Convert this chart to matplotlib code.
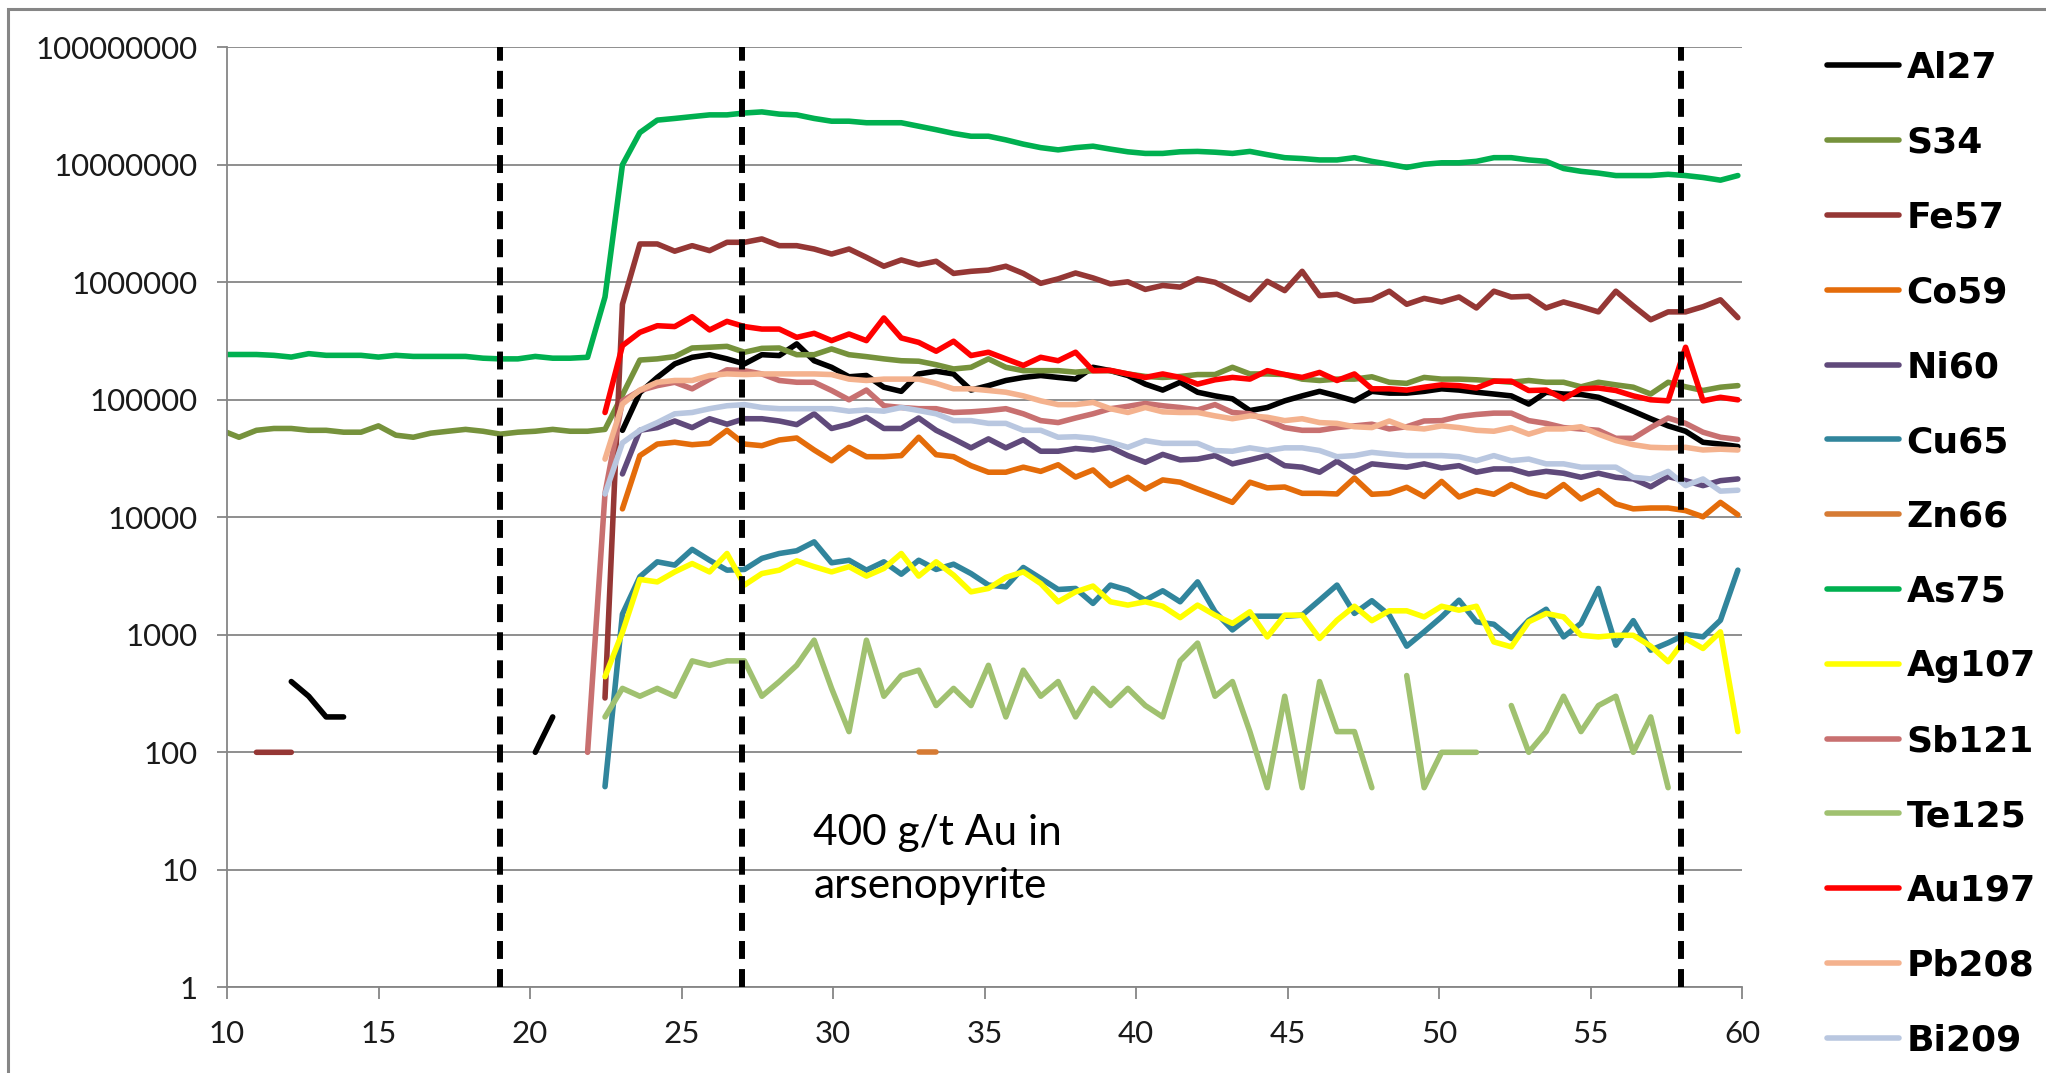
import numpy as np
import matplotlib
matplotlib.use('Agg')
import matplotlib.pyplot as plt
from matplotlib.patches import Rectangle
from matplotlib.ticker import FixedLocator, NullLocator, FuncFormatter

nan = np.nan

# acquisition grid: one sweep every 0.5752 s, sweep 0 sits just left of 10 s
SWEEP_START = 9.821
SWEEP_STEP = 0.5752
N_SWEEPS = 88

# ---- counts per sweep (cps) ------------------------------------------------
# gas blank part (sweeps 0-21)
as75_blank = [2.43e5, 2.43e5, 2.43e5, 2.39e5, 2.31e5, 2.47e5, 2.39e5, 2.39e5, 2.39e5, 2.31e5, 2.39e5,
              2.34e5, 2.34e5, 2.34e5, 2.34e5, 2.26e5, 2.23e5, 2.23e5, 2.34e5, 2.26e5, 2.26e5, 2.30e5]
s34_blank = [5.5e4, 4.8e4, 5.5e4, 5.7e4, 5.7e4, 5.5e4, 5.5e4, 5.3e4, 5.3e4, 6.0e4, 5.0e4,
             4.8e4, 5.2e4, 5.4e4, 5.6e4, 5.4e4, 5.1e4, 5.3e4, 5.4e4, 5.6e4, 5.4e4, 5.4e4]
al27_blank = [400, 300, 200, 200]          # sweeps 4-7
al27_blank2 = [100, 200]                   # sweeps 18-19
fe57_blank = [100, 100, 100]               # sweeps 2-4
sb121_blank = [100]                        # sweep 21
zn66_spot = [100, 100]                     # sweeps 40-41

# ablation part (sweeps 22-87)
al27 = [nan, 5.5e4, 1.15e5, 1.55e5, 2.02e5, 2.3e5, 2.42e5, 2.23e5, 2.02e5, 2.42e5, 2.38e5,
        2.99e5, 2.15e5, 1.89e5, 1.57e5, 1.61e5, 1.28e5, 1.18e5, 1.66e5, 1.75e5, 1.66e5, 1.21e5,
        1.32e5, 1.46e5, 1.55e5, 1.61e5, 1.55e5, 1.5e5, 1.89e5, 1.77e5, 1.61e5, 1.36e5, 1.21e5,
        1.41e5, 1.16e5, 1.08e5, 1.02e5, 8.1e4, 8.6e4, 9.8e4, 1.08e5, 1.18e5, 1.08e5, 9.8e4,
        1.18e5, 1.14e5, 1.14e5, 1.18e5, 1.24e5, 1.21e5, 1.16e5, 1.12e5, 1.08e5, 9.2e4, 1.16e5,
        1.12e5, 1.11e5, 1.05e5, 9.2e4, 8.0e4, 6.9e4, 6.0e4, 5.4e4, 4.35e4, 4.2e4, 4.0e4]
s34 = [5.6e4, 1.1e5, 2.18e5, 2.23e5, 2.33e5, 2.76e5, 2.8e5, 2.85e5, 2.54e5, 2.74e5, 2.76e5,
       2.42e5, 2.42e5, 2.71e5, 2.42e5, 2.33e5, 2.23e5, 2.15e5, 2.13e5, 1.99e5, 1.83e5, 1.89e5,
       2.23e5, 1.89e5, 1.77e5, 1.77e5, 1.77e5, 1.72e5, 1.77e5, 1.77e5, 1.66e5, 1.58e5, 1.55e5,
       1.58e5, 1.64e5, 1.64e5, 1.89e5, 1.66e5, 1.66e5, 1.64e5, 1.5e5, 1.46e5, 1.5e5, 1.5e5,
       1.57e5, 1.41e5, 1.38e5, 1.55e5, 1.5e5, 1.5e5, 1.48e5, 1.45e5, 1.41e5, 1.46e5, 1.41e5,
       1.41e5, 1.29e5, 1.41e5, 1.34e5, 1.28e5, 1.12e5, 1.41e5, 1.29e5, 1.2e5, 1.28e5, 1.32e5]
fe57 = [290, 6.5e5, 2.12e6, 2.12e6, 1.84e6, 2.05e6, 1.86e6, 2.19e6, 2.19e6, 2.34e6, 2.05e6,
        2.05e6, 1.92e6, 1.74e6, 1.92e6, 1.63e6, 1.37e6, 1.55e6, 1.41e6, 1.51e6, 1.19e6, 1.24e6,
        1.27e6, 1.37e6, 1.19e6, 9.8e5, 1.07e6, 1.2e6, 1.09e6, 9.7e5, 1.01e6, 8.7e5, 9.4e5,
        9.1e5, 1.07e6, 1.0e6, 8.4e5, 7.1e5, 1.02e6, 8.5e5, 1.24e6, 7.7e5, 7.9e5, 6.9e5,
        7.1e5, 8.4e5, 6.5e5, 7.3e5, 6.8e5, 7.5e5, 6.05e5, 8.4e5, 7.5e5, 7.6e5, 6.05e5,
        6.8e5, 6.2e5, 5.6e5, 8.4e5, 6.3e5, 4.8e5, 5.6e5, 5.6e5, 6.2e5, 7.1e5, 5.0e5]
co59 = [nan, 1.18e4, 3.35e4, 4.2e4, 4.35e4, 4.15e4, 4.26e4, 5.5e4, 4.2e4, 4.07e4, 4.55e4,
        4.73e4, 3.74e4, 3.03e4, 3.94e4, 3.28e4, 3.28e4, 3.35e4, 4.8e4, 3.41e4, 3.28e4, 2.75e4,
        2.42e4, 2.42e4, 2.67e4, 2.46e4, 2.8e4, 2.2e4, 2.53e4, 1.86e4, 2.19e4, 1.74e4, 2.08e4,
        1.99e4, 1.74e4, 1.53e4, 1.34e4, 1.99e4, 1.78e4, 1.81e4, 1.6e4, 1.6e4, 1.58e4, 2.16e4,
        1.57e4, 1.6e4, 1.8e4, 1.5e4, 2.02e4, 1.49e4, 1.69e4, 1.57e4, 1.9e4, 1.63e4, 1.5e4,
        1.9e4, 1.43e4, 1.69e4, 1.3e4, 1.18e4, 1.2e4, 1.2e4, 1.14e4, 1.01e4, 1.34e4, 1.05e4]
ni60 = [nan, 2.34e4, 5.5e4, 5.8e4, 6.6e4, 5.8e4, 6.9e4, 6.2e4, 6.9e4, 6.9e4, 6.6e4,
        6.15e4, 7.6e4, 5.7e4, 6.2e4, 7.1e4, 5.7e4, 5.7e4, 7.0e4, 5.5e4, 4.65e4, 3.9e4,
        4.65e4, 3.9e4, 4.57e4, 3.65e4, 3.65e4, 3.85e4, 3.74e4, 3.94e4, 3.35e4, 2.94e4, 3.43e4,
        3.08e4, 3.13e4, 3.35e4, 2.85e4, 3.08e4, 3.35e4, 2.75e4, 2.67e4, 2.42e4, 3.0e4, 2.42e4,
        2.85e4, 2.75e4, 2.67e4, 2.85e4, 2.63e4, 2.75e4, 2.42e4, 2.58e4, 2.58e4, 2.34e4, 2.46e4,
        2.37e4, 2.19e4, 2.37e4, 2.19e4, 2.12e4, 1.82e4, 2.22e4, 2.05e4, 1.86e4, 2.05e4, 2.12e4]
cu65 = [51, 1500, 3120, 4180, 3920, 5330, 4310, 3550, 3600, 4470, 4920,
        5190, 6180, 4100, 4310, 3550, 4180, 3280, 4310, 3600, 3990, 3320,
        2650, 2560, 3740, 3020, 2430, 2480, 1850, 2650, 2400, 1970, 2370,
        1910, 2820, 1570, 1100, 1440, 1440, 1440, 1470, 1970, 2650, 1520,
        1950, 1470, 800, 1060, 1420, 1970, 1290, 1230, 930, 1330, 1650,
        960, 1250, 2480, 816, 1320, 740, 855, 1010, 960, 1330, 3550]
as75 = [7.5e5, 1.0e7, 1.88e7, 2.4e7, 2.48e7, 2.57e7, 2.66e7, 2.66e7, 2.76e7, 2.82e7, 2.7e7,
        2.66e7, 2.48e7, 2.35e7, 2.35e7, 2.28e7, 2.28e7, 2.28e7, 2.13e7, 1.99e7, 1.85e7, 1.75e7,
        1.75e7, 1.63e7, 1.5e7, 1.4e7, 1.34e7, 1.4e7, 1.44e7, 1.36e7, 1.29e7, 1.25e7, 1.25e7,
        1.29e7, 1.3e7, 1.28e7, 1.25e7, 1.3e7, 1.22e7, 1.15e7, 1.13e7, 1.1e7, 1.1e7, 1.15e7,
        1.07e7, 1.01e7, 9.5e6, 1.01e7, 1.04e7, 1.04e7, 1.07e7, 1.15e7, 1.15e7, 1.1e7, 1.07e7,
        9.3e6, 8.8e6, 8.5e6, 8.1e6, 8.1e6, 8.1e6, 8.3e6, 8.1e6, 7.8e6, 7.4e6, 8.1e6]
ag107 = [440, 1050, 2960, 2820, 3430, 4040, 3430, 4920, 2650, 3320, 3550,
         4260, 3800, 3430, 3800, 3160, 3670, 4920, 3160, 4180, 3220, 2320,
         2480, 3080, 3430, 2730, 1910, 2320, 2600, 1910, 1790, 1910, 1750,
         1400, 1790, 1470, 1250, 1570, 960, 1470, 1470, 930, 1330, 1750,
         1320, 1600, 1600, 1420, 1750, 1620, 1750, 870, 790, 1290, 1520,
         1420, 990, 960, 990, 990, 800, 590, 930, 765, 1060, 150]
sb121 = [1.6e4, 9.8e4, 1.2e5, 1.32e5, 1.41e5, 1.24e5, 1.5e5, 1.8e5, 1.77e5, 1.66e5, 1.46e5,
         1.41e5, 1.41e5, 1.2e5, 1.0e5, 1.21e5, 8.9e4, 8.6e4, 8.4e4, 8.4e4, 7.8e4, 7.9e4,
         8.1e4, 8.4e4, 7.6e4, 6.65e4, 6.4e4, 7.0e4, 7.6e4, 8.4e4, 8.8e4, 9.3e4, 8.9e4,
         8.6e4, 8.2e4, 9.1e4, 7.8e4, 7.6e4, 6.7e4, 5.8e4, 5.5e4, 5.5e4, 5.8e4, 6.0e4,
         6.2e4, 5.65e4, 5.9e4, 6.6e4, 6.65e4, 7.2e4, 7.5e4, 7.7e4, 7.7e4, 6.65e4, 6.3e4,
         5.8e4, 5.65e4, 5.5e4, 4.7e4, 4.7e4, 5.8e4, 7.0e4, 6.3e4, 5.3e4, 4.8e4, 4.6e4]
te125 = [200, 350, 300, 350, 300, 600, 550, 600, 600, 300, 400,
         550, 900, 350, 150, 900, 300, 450, 500, 250, 350, 250,
         550, 200, 500, 300, 400, 200, 350, 250, 350, 250, 200,
         600, 850, 300, 400, 150, 50, 300, 50, 400, 150, 150,
         50, nan, 450, 50, 100, 100, 100, nan, 250, 100, 150,
         300, 150, 250, 300, 100, 200, 50, nan, nan, nan, nan]
au197 = [7.8e4, 2.89e5, 3.75e5, 4.27e5, 4.2e5, 5.1e5, 3.93e5, 4.65e5, 4.2e5, 4.0e5, 4.0e5,
         3.4e5, 3.68e5, 3.19e5, 3.63e5, 3.19e5, 4.97e5, 3.36e5, 3.08e5, 2.59e5, 3.15e5, 2.38e5,
         2.54e5, 2.23e5, 1.96e5, 2.3e5, 2.15e5, 2.54e5, 1.77e5, 1.78e5, 1.66e5, 1.55e5, 1.66e5,
         1.55e5, 1.36e5, 1.48e5, 1.55e5, 1.5e5, 1.77e5, 1.64e5, 1.55e5, 1.71e5, 1.46e5, 1.66e5,
         1.24e5, 1.24e5, 1.21e5, 1.28e5, 1.34e5, 1.32e5, 1.26e5, 1.44e5, 1.44e5, 1.2e5, 1.21e5,
         1.02e5, 1.24e5, 1.26e5, 1.2e5, 1.08e5, 1.0e5, 9.8e4, 2.8e5, 9.8e4, 1.05e5, 1.0e5]
pb208 = [3.13e4, 9.2e4, 1.21e5, 1.41e5, 1.46e5, 1.46e5, 1.61e5, 1.66e5, 1.64e5, 1.66e5, 1.66e5,
         1.66e5, 1.66e5, 1.64e5, 1.5e5, 1.46e5, 1.5e5, 1.5e5, 1.5e5, 1.38e5, 1.24e5, 1.24e5,
         1.2e5, 1.16e5, 1.08e5, 9.8e4, 9.1e4, 9.1e4, 9.5e4, 8.4e4, 7.8e4, 8.6e4, 7.9e4,
         7.8e4, 7.8e4, 7.3e4, 6.9e4, 7.3e4, 7.1e4, 6.65e4, 6.9e4, 6.4e4, 6.3e4, 5.9e4,
         5.8e4, 6.6e4, 5.8e4, 5.65e4, 6.0e4, 5.8e4, 5.5e4, 5.4e4, 5.8e4, 5.1e4, 5.65e4,
         5.65e4, 5.9e4, 5.1e4, 4.5e4, 4.15e4, 3.94e4, 3.9e4, 3.94e4, 3.74e4, 3.8e4, 3.74e4]
bi209 = [1.58e4, 4.3e4, 5.5e4, 6.4e4, 7.6e4, 7.8e4, 8.4e4, 8.9e4, 9.1e4, 8.6e4, 8.4e4,
         8.4e4, 8.4e4, 8.4e4, 8.0e4, 8.2e4, 8.0e4, 8.6e4, 8.1e4, 7.6e4, 6.65e4, 6.65e4,
         6.3e4, 6.3e4, 5.5e4, 5.5e4, 4.8e4, 4.85e4, 4.7e4, 4.35e4, 3.94e4, 4.5e4, 4.26e4,
         4.26e4, 4.26e4, 3.7e4, 3.65e4, 3.9e4, 3.7e4, 3.9e4, 3.9e4, 3.7e4, 3.28e4, 3.35e4,
         3.57e4, 3.45e4, 3.35e4, 3.35e4, 3.35e4, 3.28e4, 3.03e4, 3.35e4, 3.03e4, 3.13e4, 2.85e4,
         2.85e4, 2.67e4, 2.67e4, 2.67e4, 2.19e4, 2.12e4, 2.46e4, 1.86e4, 2.12e4, 1.67e4, 1.7e4]

# boundaries of the spot (s)
markers = [19, 27, 58]
yticks = [1, 10, 100, 1000, 10000, 100000, 1000000, 10000000, 100000000]
xticks = [10, 15, 20, 25, 30, 35, 40, 45, 50, 55, 60]


def trace(*pieces):
    """Put (first sweep, values) pieces onto the sweep grid, NaN elsewhere."""
    y = np.full(N_SWEEPS, np.nan)
    for first, values in pieces:
        y[first:first + len(values)] = values
    return y


ABL = 22  # first sweep of the ablation signal
time = SWEEP_START + SWEEP_STEP * np.arange(N_SWEEPS)

series = [
    ('Al27', '#000000', trace((4, al27_blank), (18, al27_blank2), (ABL, al27))),
    ('S34', '#76923C', trace((0, s34_blank), (ABL, s34))),
    ('Fe57', '#953735', trace((2, fe57_blank), (ABL, fe57))),
    ('Co59', '#E46C0A', trace((ABL, co59))),
    ('Ni60', '#604A7B', trace((ABL, ni60))),
    ('Cu65', '#31859C', trace((ABL, cu65))),
    ('Zn66', '#D67B34', trace((40, zn66_spot))),
    ('As75', '#00B050', trace((0, as75_blank), (ABL, as75))),
    ('Ag107', '#FFFF00', trace((ABL, ag107))),
    ('Sb121', '#C87070', trace((21, sb121_blank), (ABL, sb121))),
    ('Te125', '#A0C170', trace((ABL, te125))),
    ('Au197', '#FF0000', trace((ABL, au197))),
    ('Pb208', '#F4B28E', trace((ABL, pb208))),
    ('Bi209', '#B9C7E0', trace((ABL, bi209))),
]

W, H = 2046, 1073
fig = plt.figure(figsize=(W / 100, H / 100), dpi=100)
ax = fig.add_axes([227 / W, 1 - 987.3 / H, (1742 - 227) / W, (987.3 - 47.3) / H])

grey = '#868686'
handles = []
for name, color, values in series:
    ln, = ax.plot(time, values, color=color, lw=4.0, label=name,
                  solid_capstyle='round', solid_joinstyle='round')
    handles.append(ln)

ax.vlines(markers, 1, 1e8, colors='black', lw=4.3, linestyles=(0, (3.0, 1.7)), zorder=5)

ax.set_yscale('log')
ax.set_xlim(10, 60)
ax.set_ylim(1, 1e8)
ax.yaxis.set_major_locator(FixedLocator(yticks))
ax.yaxis.set_minor_locator(NullLocator())
ax.yaxis.set_major_formatter(FuncFormatter(lambda v, p: f'{v:.0f}'))
ax.xaxis.set_major_locator(FixedLocator(xticks))
ax.grid(axis='y', color=grey, lw=1.3)
ax.set_axisbelow(True)
for side in ('top', 'right'):
    ax.spines[side].set_visible(False)
for side in ('left', 'bottom'):
    ax.spines[side].set_color(grey)
    ax.spines[side].set_linewidth(1.3)
ax.tick_params(axis='y', length=7, width=1.3, color=grey, pad=14, labelsize=22.5, labelcolor='#1a1a1a')
ax.tick_params(axis='x', length=8.5, width=1.3, color=grey, pad=15, labelsize=22.5, labelcolor='#1a1a1a')
for lab in ax.get_xticklabels() + ax.get_yticklabels():
    lab.set_family('Lato')

ax.text(29.35, 30, '400 g/t Au in\narsenopyrite', family='Lato', fontsize=30.5,
        va='top', ha='left', linespacing=1.5)

ax.legend(handles=handles, loc='upper left', bbox_to_anchor=(1827 / W, 1 - 51 / H),
          bbox_transform=fig.transFigure, frameon=False, borderpad=0, borderaxespad=0,
          handlelength=2.0, handletextpad=0.2, labelspacing=1.13,
          prop=dict(family='DejaVu Sans', weight='bold', size=26))

# chart area border (only the left and top edges fall inside the image)
fig.add_artist(Rectangle((8 / W, -0.1), 2, 1.1 - 9 / H, transform=fig.transFigure,
                         fill=False, edgecolor=grey, lw=2.2))

fig.savefig('out.png', dpi=100)
